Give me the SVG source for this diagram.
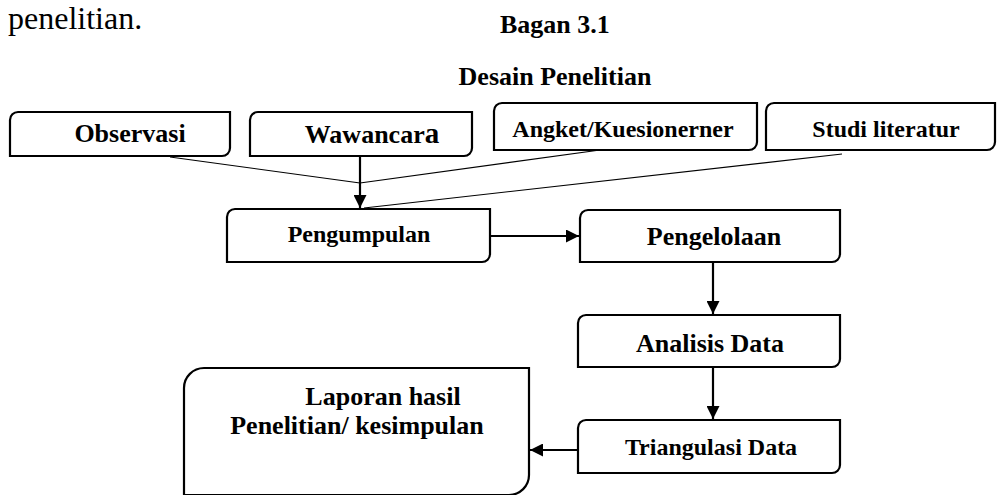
<svg xmlns="http://www.w3.org/2000/svg" width="998" height="495" viewBox="0 0 998 495">
<defs>
<marker id="ah" markerWidth="13" markerHeight="13" refX="13" refY="6.5" orient="auto" markerUnits="userSpaceOnUse">
<path d="M0,0 L13,6.5 L0,13 Z" fill="#000"/>
</marker>
</defs>
<style>
.box{fill:#fff;stroke:#000;stroke-width:2.2}
.t{font-family:"Liberation Serif","Times New Roman",serif;font-weight:bold;fill:#000}
.thin{stroke:#000;stroke-width:1.2;fill:none}
.arr{stroke:#000;stroke-width:2.2;fill:none;marker-end:url(#ah)}
</style>
<rect width="998" height="495" fill="#fff"/>
<text x="8" y="29" font-family="'Liberation Serif', 'Times New Roman', serif" font-size="32" fill="#000">penelitian.</text>
<text class="t" x="500" y="33" font-size="26">Bagan 3.1</text>
<text class="t" x="555" y="85" font-size="26" text-anchor="middle">Desain Penelitian</text>

<g id="connectors">
<line class="thin" x1="170" y1="157" x2="360" y2="183"/>
<line class="thin" x1="600" y1="150" x2="360" y2="183"/>
<line class="thin" x1="842" y1="154" x2="364" y2="208"/>
<line class="arr" x1="360" y1="157" x2="360" y2="208"/>
<line class="arr" x1="490" y1="236" x2="579" y2="236"/>
<line class="arr" x1="713" y1="262" x2="713" y2="314"/>
<line class="arr" x1="713" y1="367" x2="713" y2="419"/>
<line class="arr" x1="578" y1="450" x2="530" y2="450"/>
</g>

<g id="observasi">
<path class="box" d="M18,112 H230 V148 A8,8 0 0 1 222,156 H10 V120 A8,8 0 0 1 18,112 Z"/>
<text class="t" x="130" y="142" font-size="26" text-anchor="middle">Observasi</text>
</g>
<g id="wawancara">
<path class="box" d="M258,112 H472 V148 A8,8 0 0 1 464,156 H250 V120 A8,8 0 0 1 258,112 Z"/>
<text class="t" x="372" y="143" font-size="26" text-anchor="middle">Wawancar<tspan font-size="29">a</tspan></text>
</g>
<g id="angket">
<path class="box" d="M502,103 H757 V142 A8,8 0 0 1 749,150 H494 V111 A8,8 0 0 1 502,103 Z"/>
<text class="t" x="623" y="137" font-size="24" text-anchor="middle">Angket/Kuesionerner</text>
</g>
<g id="studi">
<path class="box" d="M774,103 H995 V142 A8,8 0 0 1 987,150 H766 V111 A8,8 0 0 1 774,103 Z"/>
<text class="t" x="886" y="137" font-size="24" text-anchor="middle">Studi literatur</text>
</g>
<g id="pengumpulan">
<path class="box" d="M235,209 H490 V254 A8,8 0 0 1 482,262 H227 V217 A8,8 0 0 1 235,209 Z"/>
<text class="t" x="359" y="242" font-size="24" text-anchor="middle">Pengumpulan</text>
</g>
<g id="pengelolaan">
<path class="box" d="M588,210 H840 V254 A8,8 0 0 1 832,262 H580 V218 A8,8 0 0 1 588,210 Z"/>
<text class="t" x="714" y="245" font-size="26" text-anchor="middle">Pengelolaan</text>
</g>
<g id="analisis">
<path class="box" d="M586,315 H840 V359 A8,8 0 0 1 832,367 H578 V323 A8,8 0 0 1 586,315 Z"/>
<text class="t" x="710" y="352" font-size="26" text-anchor="middle">Analisis Data</text>
</g>
<g id="triangulasi">
<path class="box" d="M586,420 H840 V465 A8,8 0 0 1 832,473 H578 V428 A8,8 0 0 1 586,420 Z"/>
<text class="t" x="711" y="455" font-size="24" text-anchor="middle">Triangulasi Data</text>
</g>
<g id="laporan">
<path class="box" d="M204,368 H529 V475 A20,20 0 0 1 509,495 H184 V388 A20,20 0 0 1 204,368 Z"/>
<text class="t" x="383" y="405" font-size="26" text-anchor="middle">Laporan hasil</text>
<text class="t" x="357" y="434" font-size="26" text-anchor="middle">Penelitian/ kesimpulan</text>
</g>
</svg>
